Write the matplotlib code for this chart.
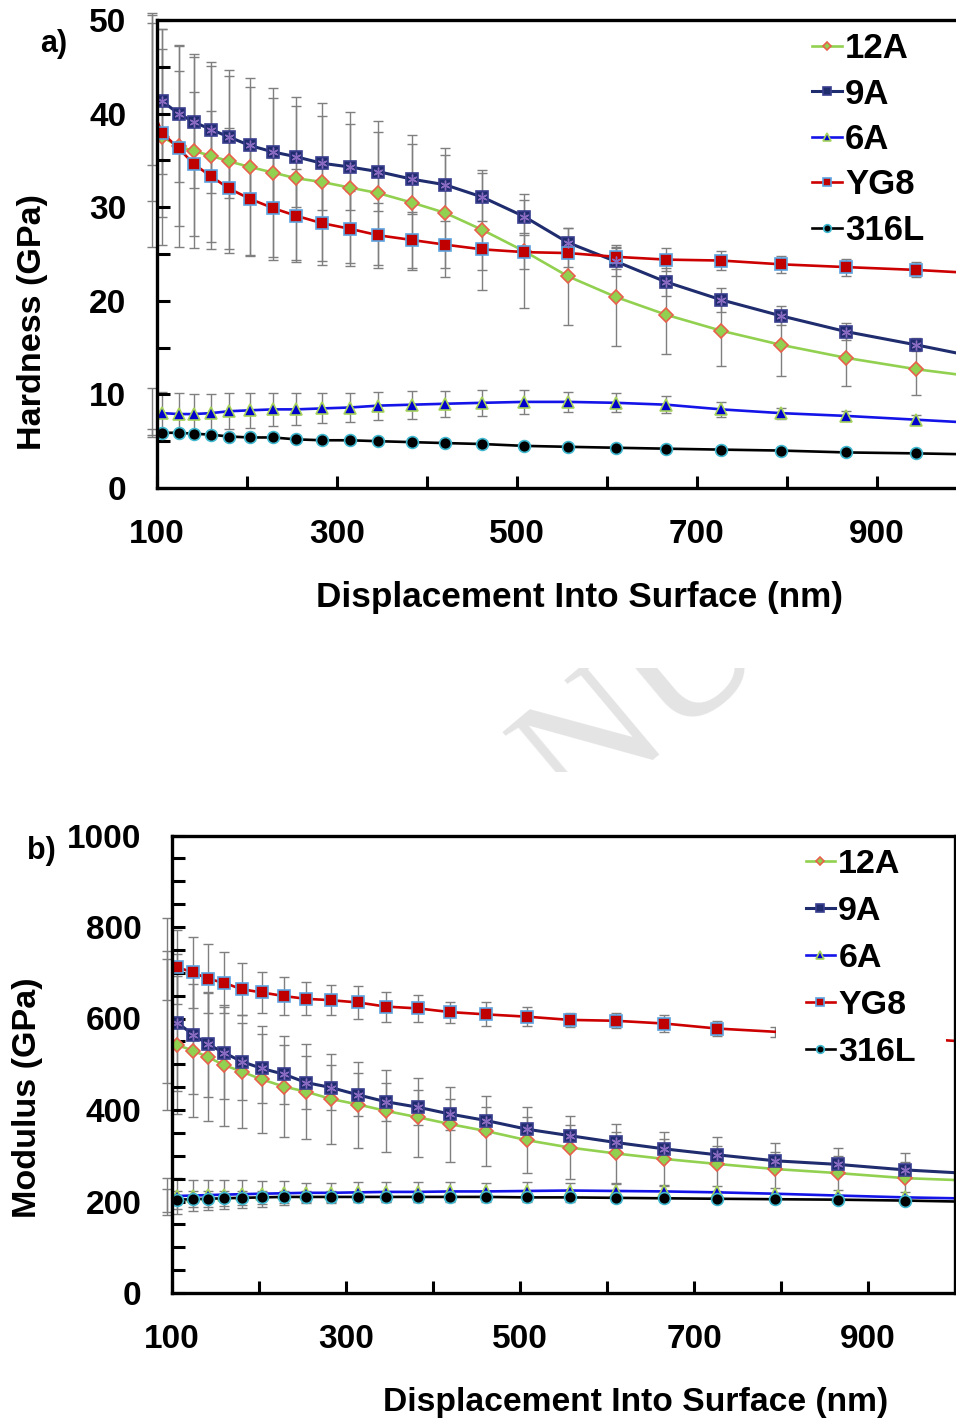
import matplotlib
matplotlib.use("Agg")
import matplotlib.pyplot as plt
from matplotlib.patches import Rectangle
from matplotlib.ticker import MultipleLocator

plt.rcParams['font.family'] = ['Liberation Sans', 'DejaVu Sans']
plt.rcParams['font.weight'] = 'bold'

# indentation depth (nm) where markers sit; first/last entries of the
# "full" arrays are the off-axis start point and the line end
depth = [106, 124, 141, 160, 180, 203, 229, 254, 283, 314, 346, 383, 420, 461,
         508, 557, 610, 666, 727, 793, 866, 943]
d_start, d_end = 94, 1000

# hardness (GPa)
h12A = [37.5, 36.5, 36.0, 35.5, 34.9, 34.3, 33.7, 33.1, 32.7, 32.1, 31.5, 30.5,
        29.4, 27.6, 25.3, 22.6, 20.4, 18.5, 16.8, 15.3, 13.9, 12.7]
h9A = [41.3, 40.0, 39.1, 38.3, 37.5, 36.6, 35.9, 35.4, 34.7, 34.3, 33.8, 33.0,
       32.4, 31.1, 29.0, 26.2, 24.2, 22.0, 20.1, 18.4, 16.7, 15.3]
h6A = [8.0, 7.9, 7.9, 8.0, 8.2, 8.3, 8.4, 8.4, 8.5, 8.6, 8.8, 8.9, 9.0, 9.1,
       9.2, 9.2, 9.1, 8.9, 8.4, 8.0, 7.7, 7.3]
hYG8 = [37.9, 36.3, 34.6, 33.3, 32.0, 30.9, 29.9, 29.1, 28.3, 27.7, 27.0, 26.5,
        26.0, 25.5, 25.2, 25.1, 24.7, 24.4, 24.3, 23.9, 23.6, 23.3]
h316L = [5.9, 5.9, 5.8, 5.7, 5.5, 5.4, 5.4, 5.2, 5.1, 5.1, 5.0, 4.9, 4.8, 4.7,
         4.5, 4.4, 4.3, 4.2, 4.1, 4.0, 3.8, 3.7]
h_start = {'12A': 38.3, '9A': 42.1, '6A': 8.1, 'YG8': 40.6, '316L': 6.0}
h_end = {'12A': 12.0, '9A': 14.2, '6A': 7.0, 'YG8': 23.0, '316L': 3.6}

eh12A = [11.5, 10.7, 10.4, 10.0, 9.8, 9.5, 9.0, 8.7, 8.4, 8.1, 7.7, 7.2, 6.9,
         6.4, 6.1, 5.2, 5.2, 4.2, 3.8, 3.3, 3.0, 2.8]
eh9A = [7.7, 7.3, 7.0, 6.8, 6.5, 6.2, 5.8, 5.4, 5.0, 4.6, 4.2, 3.7, 3.2, 2.6,
        1.8, 1.6, 1.5, 1.5, 1.3, 1.0, 0.9, 0.7]
eh6A = [2.3, 2.2, 2.1, 2.0, 1.9, 1.9, 1.8, 1.7, 1.6, 1.5, 1.5, 1.5, 1.4, 1.4,
        1.3, 1.1, 1.0, 0.9, 0.8, 0.6, 0.5, 0.5]
ehYG8 = [9.0, 8.3, 7.7, 7.0, 6.5, 6.0, 5.5, 5.0, 4.5, 4.0, 3.5, 3.0, 2.5, 2.2,
         1.8, 1.5, 1.3, 1.2, 1.0, 0.9, 0.9, 0.8]
eh316L = [0.2] * 22
eh_start = {'12A': 12.5, '9A': 7.6, '6A': 2.6, 'YG8': 9.9, '316L': 0.3}

# modulus (GPa)
m12A = [542, 530, 516, 498, 484, 467, 451, 440, 424, 412, 398, 384, 369, 354,
        334, 318, 305, 293, 282, 271, 262, 251]
m9A = [591, 565, 544, 525, 506, 491, 478, 460, 449, 433, 418, 406, 391, 377,
       358, 344, 329, 315, 302, 289, 281, 269]
m6A = [212, 213, 214, 215, 216, 217, 218, 219, 219, 220, 221, 221, 222, 222,
       223, 224, 223, 222, 220, 217, 213, 209]
mYG8 = [712, 701, 687, 678, 664, 657, 649, 643, 640, 635, 626, 622, 614, 609,
        604, 597, 595, 589, 578, 571, 565, 558]
m316L = [204, 205, 206, 207, 208, 209, 210, 210, 210, 210, 210, 210, 210, 210,
         209, 209, 208, 207, 206, 205, 204, 202]
m_start = {'12A': 564, '9A': 603, '6A': 211, 'YG8': 730, '316L': 203}
m_end = {'12A': 247, '9A': 263, '6A': 207, 'YG8': 551, '316L': 200}

em12A = [150, 145, 140, 132, 124, 117, 110, 104, 99, 94, 90, 86, 82, 77, 72,
         68, 65, 60, 60, 56, 54, 54]
em9A = [150, 130, 115, 100, 85, 75, 65, 57, 50, 47, 42, 38, 34, 30, 26, 24, 22,
        21, 20, 19, 18, 17]
em6A = [40, 34, 33, 32, 30, 28, 26, 22, 22, 22, 22, 21, 20, 19, 19, 16, 15, 14,
        14, 13, 13, 12]
emYG8 = [81, 78, 76, 67, 57, 45, 41, 36, 33, 35, 33, 29, 23, 26, 21, 16, 16, 19,
         17, 11, 10, 10]
em316L = [20, 18, 17, 16, 15, 14, 13, 12, 12, 11, 11, 10, 10, 10, 9, 9, 9, 8, 8,
          8, 8, 8]
em_start = {'12A': 165, '9A': 145, '6A': 40, 'YG8': 90, '316L': 25}

names = ['12A', '9A', '6A', 'YG8', '316L']
styles = {
    '12A': dict(color='#92D050', marker='D', mfc='#92D050', mec='#E8604C', ms=7, lw=1.9),
    '9A': dict(color='#1F2C6E', marker='s', mfc='#1F2C6E', mec='#3A3F8F', ms=9, lw=2.2),
    '6A': dict(color='#1414E8', marker='^', mfc='#0000CC', mec='#A6D35A', ms=9, lw=1.9),
    'YG8': dict(color='#CC0000', marker='s', mfc='#C00000', mec='#5BA3E0', ms=8.5, lw=1.9),
    '316L': dict(color='#000000', marker='o', mfc='#000000', mec='#3FB8D0', ms=8.5, lw=1.9),
}

fig = plt.figure(figsize=(9.56, 14.23), dpi=100)
W, H = 956, 1423
ax1 = fig.add_axes([157 / W, 1 - 488 / H, 810 / W, 468 / H])
ax2 = fig.add_axes([172 / W, 1 - 1293 / H, 783 / W, 457.5 / H])


def draw_panel(ax, data, errs, start, end, estart, ymax, ymaj, ymin, marks):
    handles = []
    for n in names:
        st = styles[n]
        xs = [d_start] + depth + [d_end]
        ys = [start[n]] + data[n] + [end[n]]
        ax.errorbar([d_start] + depth, [start[n]] + data[n],
                    yerr=[estart[n]] + errs[n], fmt='none', ecolor='#7F7F7F',
                    elinewidth=1.0, capsize=3.5, capthick=1.0, zorder=1,
                    clip_on=False)
        ln, = ax.plot(xs, ys, color=st['color'], lw=st['lw'], marker=st['marker'],
                      mfc=st['mfc'], mec=st['mec'], ms=st['ms'], mew=1.2,
                      markevery=marks.get(n, list(range(1, 23))), zorder=3,
                      label=n)
        if n == '9A':
            idx = marks.get(n, list(range(1, 23)))
            ax.plot([xs[i] for i in idx], [ys[i] for i in idx], ls='none',
                    marker=(6, 2, 0), ms=7, mec='#8A6BC2', mew=1.0, zorder=4)
        handles.append(ln)
    ax.set_xlim(100, 1000)
    ax.set_ylim(0, ymax)
    ax.xaxis.set_minor_locator(MultipleLocator(100))
    ax.set_xticks(range(100, 1000, 200))
    ax.yaxis.set_major_locator(MultipleLocator(ymaj))
    ax.yaxis.set_minor_locator(MultipleLocator(ymin))
    ax.tick_params(which='both', direction='in', width=2.2, length=9,
                   labelsize=24, pad=22, right=False, top=False)
    for s in ax.spines.values():
        s.set_linewidth(2.4)
        s.set_zorder(6)
    return handles


hard = {'12A': h12A, '9A': h9A, '6A': h6A, 'YG8': hYG8, '316L': h316L}
hard_err = {'12A': eh12A, '9A': eh9A, '6A': eh6A, 'YG8': ehYG8, '316L': eh316L}
mod = {'12A': m12A, '9A': m9A, '6A': m6A, 'YG8': mYG8, '316L': m316L}
mod_err = {'12A': em12A, '9A': em9A, '6A': em6A, 'YG8': emYG8, '316L': em316L}

hd1 = draw_panel(ax1, hard, hard_err, h_start, h_end, eh_start, 50, 10, 5, {})
ax1.spines['right'].set_visible(False)
hd2 = draw_panel(ax2, mod, mod_err, m_start, m_end, em_start, 1000, 200, 50,
                 {'YG8': list(range(1, 20))})

leg1 = ax1.legend(handles=hd1, loc='upper left', bbox_to_anchor=(812 / W, 1 - 32 / H),
                  bbox_transform=fig.transFigure, frameon=False, fontsize=25,
                  handlelength=0.85, handletextpad=0.1, labelspacing=0.36,
                  borderpad=0, borderaxespad=0, markerscale=0.65)
leg2 = ax2.legend(handles=hd2, loc='upper left', bbox_to_anchor=(776 / W, 1 - 819 / H),
                  bbox_transform=fig.transFigure, frameon=True, fontsize=24.5,
                  facecolor='white', edgecolor='none', framealpha=1, fancybox=False,
                  handlelength=0.85, handletextpad=0.1, labelspacing=0.47,
                  borderpad=0.88, borderaxespad=0, markerscale=0.65)
leg2.get_frame().set_clip_box(ax2.bbox)
leg2.get_frame().set_clip_on(True)

fig.text(33 / W, 1 - 322 / H, 'Hardness (GPa)', rotation=90, ha='center',
         va='center', fontsize=24.6)
fig.text(580 / W, 1 - 597 / H, 'Displacement Into Surface (nm)', ha='center',
         va='center', fontsize=25.3)
fig.text(28 / W, 1 - 1098 / H, 'Modulus (GPa)', rotation=90, ha='center',
         va='center', fontsize=24.6)
fig.text(636 / W, 1 - 1402 / H, 'Displacement Into Surface (nm)', ha='center',
         va='center', fontsize=24.2)
fig.text(54 / W, 1 - 44 / H, 'a)', ha='center', va='center', fontsize=22)
fig.text(41 / W, 1 - 851 / H, 'b)', ha='center', va='center', fontsize=22)

# piece of the "accepted manuscript" watermark showing between the panels
wm = fig.text(645 / W, 1 - 705 / H, 'NU', rotation=40, rotation_mode='anchor',
              ha='center', va='center', fontsize=130, color='#E4E4E4',
              family='Liberation Serif', weight='normal', zorder=0)
band = Rectangle((0, 1 - 772 / H), 1, 104 / H, transform=fig.transFigure)
wm.set_clip_path(band)

fig.savefig('out.png', dpi=100)
